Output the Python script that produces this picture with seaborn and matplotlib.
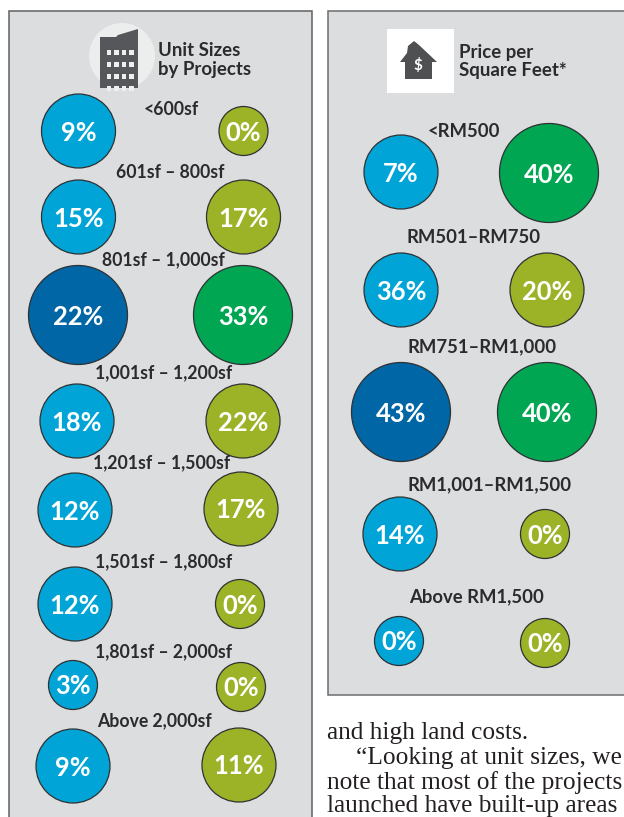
import matplotlib.pyplot as plt
import matplotlib.patches as mp
import seaborn as sns
import pandas as pd

sns.set_style("white")
plt.rcParams['font.family'] = ['Lato', 'DejaVu Sans']
W, H = 624, 817

# values
size_labels = ['<600sf', '601sf – 800sf', '801sf – 1,000sf', '1,001sf – 1,200sf',
               '1,201sf – 1,500sf', '1,501sf – 1,800sf', '1,801sf – 2,000sf', 'Above 2,000sf']
size_a = [9, 15, 22, 18, 12, 12, 3, 9]
size_b = [0, 17, 33, 22, 17, 0, 0, 11]

price_labels = ['<RM500', 'RM501–RM750', 'RM751–RM1,000', 'RM1,001–RM1,500', 'Above RM1,500']
price_a = [7, 36, 43, 14, 0]
price_b = [40, 20, 40, 0, 0]

# layout, pixels
size_ax = [78.5, 78.5, 78, 77, 75, 75, 73, 73]
size_bx = [243.5, 243.5, 243, 243, 241, 240, 241, 239]
size_ay = [131, 217, 315, 421, 510, 604, 685, 766]
size_by = [131, 217, 315, 421, 509, 604, 687, 765]
size_lx = [171, 170, 163, 163.5, 162, 163.5, 163.5, 154]
size_ly = [109, 172, 260, 373, 463, 562, 652, 721]

price_ax = [401, 401, 401, 400, 399]
price_bx = [549, 547, 547, 545, 545]
price_ay = [172, 290, 412, 534, 641]
price_by = [173, 290, 412, 534, 643]
price_lx = [464, 474, 482, 490, 477]
price_ly = [131, 237, 347, 485, 597]

palette = {'blue': '#00a4d6', 'navy': '#0066a6', 'olive': '#9cb227', 'green': '#00a651'}
areas = {d: (d * 0.72) ** 2 for d in (49, 74, 99)}


def tier(v, top):
    if v == top:
        return 99
    return 49 if v <= 3 else 74


def column(values, xs, ys, base, high):
    top = max(values)
    return pd.DataFrame({
        'x': xs, 'y': ys, 'value': values,
        'tier': [tier(v, top) for v in values],
        'colour': [high if v == top else base for v in values],
    })


fig = plt.figure(figsize=(W / 100, H / 100), dpi=100, facecolor='white')
ax = fig.add_axes([0, 0, 1, 1])
ax.set_xlim(0, W)
ax.set_ylim(H, 0)
ax.axis('off')

# panels
ax.add_patch(mp.Rectangle((8.5, 10.5), 303, 830, fc='#dcddde', ec='#5f6062', lw=1.1))
ax.add_patch(mp.Rectangle((327.5, 11), 320, 684, fc='#dcddde', ec='#6b6c6e', lw=1.1))

df = pd.concat([
    column(size_a, size_ax, size_ay, 'blue', 'navy'),
    column(size_b, size_bx, size_by, 'olive', 'green'),
    column(price_a, price_ax, price_ay, 'blue', 'navy'),
    column(price_b, price_bx, price_by, 'olive', 'green'),
])
sns.scatterplot(data=df, x='x', y='y', hue='colour', size='tier', palette=palette,
                sizes=areas, edgecolor='#2f3133', linewidth=0.9, legend=False,
                clip_on=False, zorder=3, ax=ax)
ax.set_xlim(0, W)
ax.set_ylim(H, 0)

for row in df.itertuples():
    ax.text(row.x, row.y + 1.5, f'{row.value}%', color='white', fontsize=18.4, fontweight='bold',
            ha='center', va='center', zorder=4)

for lab, x, y in zip(size_labels, size_lx, size_ly):
    ax.text(x, y, lab, color='#2b2b2d', fontsize=12.7, fontweight='bold', ha='center', va='center', zorder=4)
for lab, x, y in zip(price_labels, price_lx, price_ly):
    ax.text(x, y, lab, color='#2b2b2d', fontsize=13.3, fontweight='bold', ha='center', va='center', zorder=4)

# headers
for y, t in zip([50, 69], ['Unit Sizes', 'by Projects']):
    ax.text(158, y, t, color='#2b2b2d', fontsize=13.4, fontweight='bold', va='center')
for y, t in zip([52, 70], ['Price per', 'Square Feet*']):
    ax.text(459, y, t, color='#2b2b2d', fontsize=13.4, fontweight='bold', va='center')

# building icon
ax.add_patch(mp.Circle((122, 56), 33, fc='#eceded', ec='none'))
ax.add_patch(mp.Polygon([(100, 37), (116, 37), (118, 35), (138, 29), (138, 88), (100, 88)], fc='#55575a', ec='none'))
for r in range(4):
    for c in range(4):
        ax.add_patch(mp.Rectangle((106.5 + c * 7.5, 49.5 + r * 12), 4.5, 5, fc='#eef0f0', ec='none'))

# house icon
ax.add_patch(mp.Rectangle((387, 29), 67, 64, fc='white', ec='none'))
ax.add_patch(mp.Polygon([(400, 62), (405, 62), (405, 79), (432, 79), (432, 62), (437, 62), (419, 45), (414, 41), (408, 46), (407, 53)],
                        fc='#4f5052', ec='none'))
ax.text(418, 65, '$', color='white', fontsize=11, fontweight='bold', ha='center', va='center')

# body text
body = [(327, 733, 'and high land costs.'),
        (356, 758, '“Looking at unit sizes, we'),
        (327, 783, 'note that most of the projects'),
        (327, 806, 'launched have built-up areas')]
for x, y, t in body:
    ax.text(x, y, t, family='Liberation Serif', color='#231f20', fontsize=18.3, va='center', clip_on=True)

fig.savefig('out.png', dpi=100)
